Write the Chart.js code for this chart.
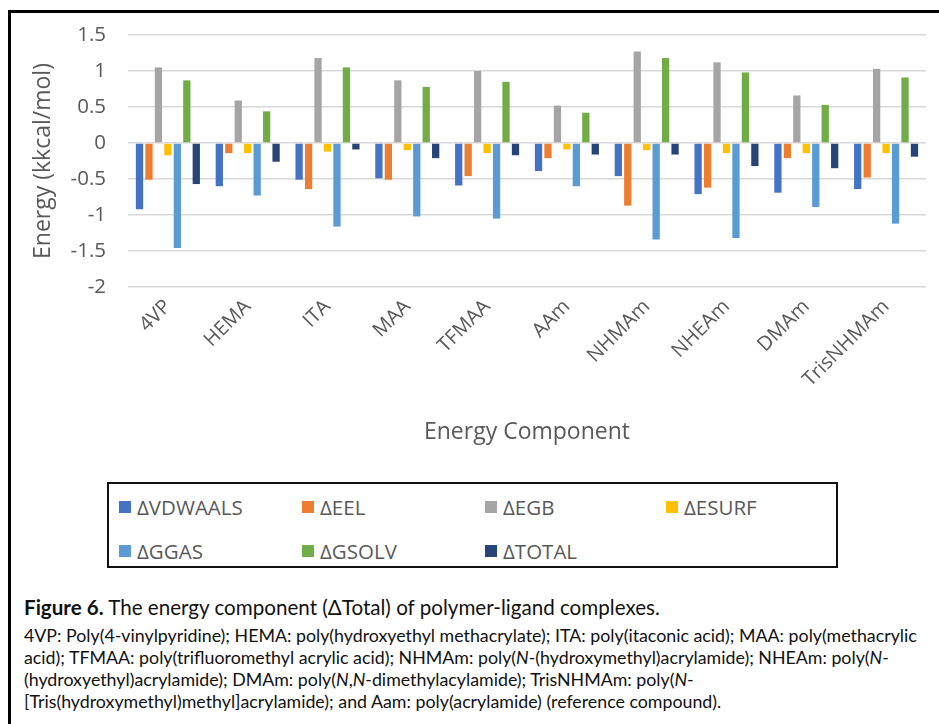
<!DOCTYPE html>
<html>
<head>
<meta charset="utf-8">
<script src="https://cdn.jsdelivr.net/npm/chart.js@4"></script>
<style>
  html, body { margin: 0; padding: 0; background: #fff; }
  body { width: 939px; height: 724px; position: relative; overflow: hidden; font-family: Lato, "Noto Sans", sans-serif; }
  #frame { position: absolute; left: 8px; top: 10px; right: -20px; bottom: -20px; border-left: 3px solid #000; border-top: 3px solid #000; }
  #chart { position: absolute; left: 0; top: 0; }
  #legend { position: absolute; left: 107px; top: 482px; width: 727px; height: 82px; border: 2.5px solid #111; }
  .item { position: absolute; display: flex; align-items: center; font-family: "Open Sans", sans-serif; font-size: 20.5px; color: #595959; white-space: nowrap; }
  .item i { display: inline-block; width: 12px; height: 12px; margin-right: 6px; }
  #caption { position: absolute; left: 24px; top: 594px; color: #111; }
  #caption .head { font-size: 20.6px; line-height: 26px; white-space: nowrap; }
  #caption .body { font-size: 17.8px; line-height: 22px; white-space: nowrap; margin-top: 4px; }
</style>
</head>
<body>
<div id="frame"></div>
<canvas id="chart" width="939" height="470"></canvas>
<div id="legend"></div>
<div id="caption">
  <div class="head"><b>Figure 6.</b> The energy component (&Delta;Total) of polymer-ligand complexes.</div>
  <div class="body">
    4VP: Poly(4-vinylpyridine); HEMA: poly(hydroxyethyl methacrylate); ITA: poly(itaconic acid); MAA: poly(methacrylic<br>
    acid); TFMAA: poly(trifluoromethyl acrylic acid); NHMAm: poly(<i>N</i>-(hydroxymethyl)acrylamide); NHEAm: poly(<i>N</i>-<br>
    (hydroxyethyl)acrylamide); DMAm: poly(<i>N</i>,<i>N</i>-dimethylacylamide); TrisNHMAm: poly(<i>N</i>-<br>
    [Tris(hydroxymethyl)methyl]acrylamide); and Aam: poly(acrylamide) (reference compound).
  </div>
</div>
<script>
// polymers on the x axis
const polymers = ['4VP', 'HEMA', 'ITA', 'MAA', 'TFMAA', 'AAm', 'NHMAm', 'NHEAm', 'DMAm', 'TrisNHMAm'];

// energy components, kcal/mol
const vdwaals = [-0.92, -0.60, -0.51, -0.49, -0.59, -0.39, -0.46, -0.71, -0.69, -0.64];
const eel     = [-0.51, -0.14, -0.64, -0.51, -0.46, -0.21, -0.87, -0.62, -0.21, -0.48];
const egb     = [1.05, 0.59, 1.18, 0.87, 1.00, 0.52, 1.27, 1.12, 0.66, 1.03];
const esurf   = [-0.17, -0.14, -0.12, -0.10, -0.14, -0.09, -0.10, -0.14, -0.14, -0.14];
const ggas    = [-1.46, -0.73, -1.16, -1.02, -1.05, -0.60, -1.34, -1.32, -0.89, -1.12];
const gsolv   = [0.87, 0.44, 1.05, 0.78, 0.85, 0.42, 1.18, 0.98, 0.53, 0.91];
const total   = [-0.57, -0.26, -0.09, -0.21, -0.17, -0.16, -0.16, -0.32, -0.35, -0.19];

const seriesNames = ['\u0394VDWAALS', '\u0394EEL', '\u0394EGB', '\u0394ESURF', '\u0394GGAS', '\u0394GSOLV', '\u0394TOTAL'];
const seriesColors = ['#4472C4', '#ED7D31', '#A5A5A5', '#FFC000', '#5B9BD5', '#70AD47', '#264478'];
const seriesData = [vdwaals, eel, egb, esurf, ggas, gsolv, total];

const yTicks = { min: -2, max: 1.5, step: 0.5 };

const textColor = '#595959';
const fontFamily = '"Open Sans", sans-serif';

const datasets = seriesNames.map((name, i) => ({
  label: name,
  data: seriesData[i],
  backgroundColor: seriesColors[i],
  borderWidth: 0,
  categoryPercentage: 0.83,
  barPercentage: 0.77
}));

const chart = new Chart(document.getElementById('chart').getContext('2d'), {
  type: 'bar',
  data: { labels: polymers, datasets },
  options: {
    responsive: false,
    animation: false,
    layout: { padding: { left: 10, right: 13, top: 35, bottom: 20 } },
    plugins: { legend: { display: false }, tooltip: { enabled: false } },
    scales: {
      x: {
        grid: { display: false },
        border: { display: false },
        ticks: {
          color: textColor,
          font: { family: fontFamily, size: 20 },
          minRotation: 45,
          maxRotation: 45,
          padding: 0
        },
        title: {
          display: true,
          text: 'Energy Component',
          color: textColor,
          font: { family: fontFamily, size: 23 },
          padding: { top: 4, bottom: 4 }
        },
        afterFit: s => { s.height = 163; }
      },
      y: {
        min: yTicks.min,
        max: yTicks.max,
        grid: { color: '#d9d9d9', lineWidth: 1.5, drawTicks: false },
        border: { display: false },
        ticks: {
          stepSize: yTicks.step,
          color: textColor,
          font: { family: fontFamily, size: 20.5 },
          padding: 22,
          callback: v => String(v)
        },
        title: {
          display: true,
          text: 'Energy (kkcal/mol)',
          color: textColor,
          font: { family: fontFamily, size: 23 },
          padding: { top: 20, bottom: 0 }
        },
        afterFit: s => { s.width = 118; }
      }
    }
  }
});

// legend box: 4 columns, 2 rows like the Excel original
const legend = document.getElementById('legend');
const colX = [10, 193, 376, 557];
const rowY = [23, 67];
chart.data.datasets.forEach((ds, i) => {
  const el = document.createElement('div');
  el.className = 'item';
  el.style.left = colX[i % 4] + 'px';
  el.style.top = (rowY[Math.floor(i / 4)] - 13) + 'px';
  el.style.height = '26px';
  el.innerHTML = '<i style="background:' + ds.backgroundColor + '"></i>' + ds.label;
  legend.appendChild(el);
});
</script>
</body>
</html>
